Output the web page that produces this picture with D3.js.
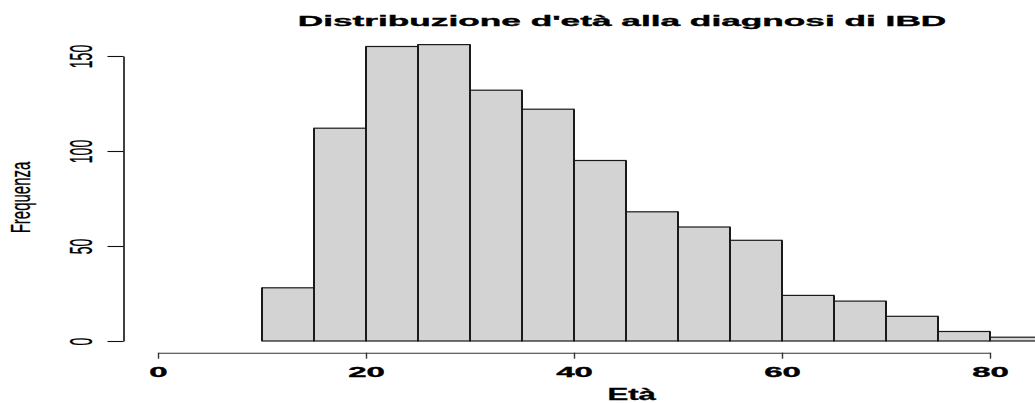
<!DOCTYPE html>
<html>
<head>
<meta charset="utf-8">
<script src="https://cdn.jsdelivr.net/npm/d3@7"></script>
<style>
  html, body { margin: 0; padding: 0; background: #fff; }
  svg { display: block; font-family: "Liberation Sans", Arial, Helvetica, sans-serif; }
</style>
</head>
<body>
<svg id="chart" width="1035" height="403"></svg>
<script>
// Histogram of age at IBD diagnosis: 5-year bins from 10 to 85
const binStarts = [10, 15, 20, 25, 30, 35, 40, 45, 50, 55, 60, 65, 70, 75, 80];
const binWidth = 5;
const counts = [28, 112, 155, 156, 132, 122, 95, 68, 60, 53, 24, 21, 13, 5, 2];
const xTicks = [0, 20, 40, 60, 80];
const yTicks = [0, 50, 100, 150];
const titleText = "Distribuzione d'età alla diagnosi di IBD";
const xLabel = "Età";
const yLabel = "Frequenza";

const FONT = '"Liberation Sans", Arial, Helvetica, sans-serif';
const svg = d3.select("#chart");

const x = d3.scaleLinear().domain([0, 80]).range([158, 990]);
const y = d3.scaleLinear().domain([0, 150]).range([341, 56]);

const bins = binStarts.map((s, i) => ({ x0: s, x1: s + binWidth, n: counts[i] }));

// bars
const bars = svg.append("g");
bars.selectAll("rect")
  .data(bins)
  .join("rect")
  .attr("x", d => x(d.x0))
  .attr("y", d => y(d.n))
  .attr("width", d => x(d.x1) - x(d.x0))
  .attr("height", d => y(0) - y(d.n))
  .attr("fill", "#D3D3D3")
  .attr("stroke", "#1a1a1a")
  .attr("stroke-width", 1.2);

// heavier vertical edges of each bar
bars.selectAll("path.edge")
  .data(bins)
  .join("path")
  .attr("class", "edge")
  .attr("d", d => `M${x(d.x0)},${y(0)}V${y(d.n)}M${x(d.x1)},${y(0)}V${y(d.n)}`)
  .attr("stroke", "#1a1a1a")
  .attr("stroke-width", 2)
  .attr("fill", "none");

// y axis
const gy = svg.append("g")
  .attr("transform", "translate(123.5,0)")
  .call(d3.axisLeft(y).tickValues(yTicks).tickSize(16).tickSizeOuter(0))
  .attr("font-family", FONT);
gy.select(".domain").attr("stroke", "#111").attr("stroke-width", 1.6);
gy.selectAll(".tick line").attr("stroke", "#111").attr("stroke-width", 1.1);
gy.selectAll(".tick text")
  .attr("x", null)
  .attr("dy", null)
  .attr("fill", "#000")
  .attr("stroke", "#000")
  .attr("stroke-width", 0.15)
  .attr("font-size", 14)
  .attr("text-anchor", "middle")
  .attr("transform", "translate(-32,0) scale(2.2,1) rotate(-90)");

// x axis
const gx = svg.append("g")
  .attr("transform", "translate(0,352.7)")
  .call(d3.axisBottom(x).tickValues(xTicks).tickSize(6).tickSizeOuter(0))
  .attr("font-family", FONT);
gx.select(".domain").attr("stroke", "#333").attr("stroke-width", 1.1);
gx.selectAll(".tick line").attr("stroke", "#333").attr("stroke-width", 1.4);
gx.selectAll(".tick text")
  .attr("y", null)
  .attr("dy", null)
  .attr("fill", "#000")
  .attr("stroke", "#000")
  .attr("stroke-width", 0.35)
  .attr("font-size", 15)
  .attr("font-weight", "bold")
  .attr("text-anchor", "middle")
  .attr("transform", "translate(0,24) scale(2.2,1)");

// title
svg.append("text")
  .attr("transform", "translate(622,26) scale(2.35,1)")
  .attr("text-anchor", "middle")
  .attr("font-size", 15)
  .attr("font-weight", "bold")
  .attr("fill", "#000")
  .attr("stroke", "#000")
  .attr("stroke-width", 0.35)
  .text(titleText);

// axis titles
svg.append("text")
  .attr("transform", "translate(631.7,400) scale(1.95,1)")
  .attr("text-anchor", "middle")
  .attr("font-size", 16)
  .attr("font-weight", "bold")
  .attr("fill", "#000")
  .attr("stroke", "#000")
  .attr("stroke-width", 0.3)
  .text(xLabel);

svg.append("text")
  .attr("transform", "translate(30,197.5) scale(1.9,1) rotate(-90)")
  .attr("text-anchor", "middle")
  .attr("font-size", 15)
  .attr("fill", "#000")
  .attr("stroke", "#000")
  .attr("stroke-width", 0.15)
  .text(yLabel);
</script>
</body>
</html>
